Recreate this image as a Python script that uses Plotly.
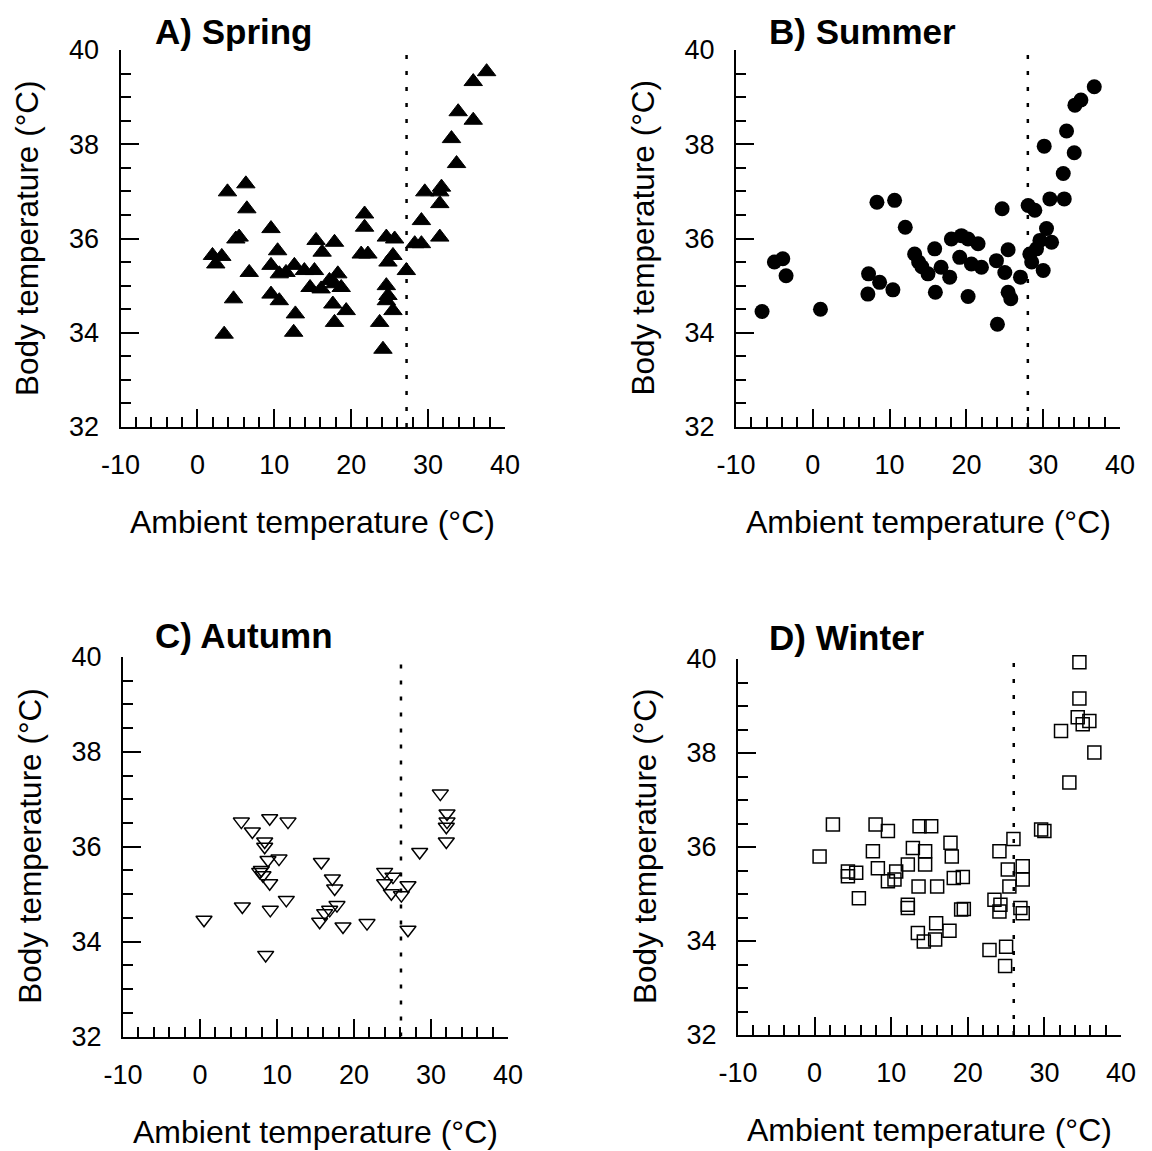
import plotly.graph_objects as go

W, H = 1152, 1151
OFF = 8  # the page body adds an 8 px margin around the figure

# ---------------- data ----------------
spring_x = [1.96, 3.17, 2.39, 3.91, 6.30, 6.43, 5.43, 5.0, 6.74, 4.70, 3.48,
            9.57, 10.43, 9.57, 10.65, 11.52, 12.61, 9.57, 10.65, 12.74, 12.52,
            13.91, 15.22, 14.65, 15.43, 16.22, 17.83, 16.09, 18.26, 17.83, 18.7,
            17.61, 17.83, 19.35, 17.17, 21.74, 21.74, 22.17, 21.3, 24.57, 25.65,
            25.43, 24.78, 24.57, 24.78, 24.57, 25.43, 23.7, 24.13, 27.17, 28.26,
            29.13, 29.13, 29.57, 31.52, 31.52, 31.52, 31.74, 33.7, 33.04, 33.91,
            35.87, 35.87, 37.61]
spring_y = [35.64, 35.62, 35.46, 36.99, 37.16, 36.63, 36.03, 35.99, 35.28, 34.72, 33.97,
            36.21, 35.74, 35.43, 35.25, 35.28, 35.43, 34.82, 34.68, 34.40, 34.01,
            35.32, 35.32, 34.96, 35.96, 35.71, 35.92, 34.93, 35.25, 35.04, 34.96,
            34.61, 34.22, 34.47, 35.11, 36.52, 36.24, 35.67, 35.67, 36.03, 35.99,
            35.64, 35.50, 35.0, 34.79, 34.68, 34.47, 34.22, 33.65, 35.32, 35.89,
            35.89, 36.38, 36.99, 36.03, 36.74, 36.99, 37.09, 37.59, 38.12, 38.69,
            38.51, 39.33, 39.54]

summer_x = [-6.61, -5.0, -3.91, -3.48, 1.0, 7.26, 7.17, 8.70, 10.43, 8.35, 10.65,
            12.04, 13.26, 13.78, 15.0, 15.87, 15.96, 16.7, 17.83, 18.04, 19.35,
            20.22, 21.52, 19.13, 20.65, 21.96, 20.22, 23.91, 25.0, 25.43, 24.65,
            25.43, 25.78, 24.04, 27.04, 28.04, 28.91, 28.26, 29.13, 29.57, 30.43,
            31.09, 30.0, 30.87, 32.74, 30.13, 32.61, 34.04, 33.04, 34.13, 34.91,
            36.65, 28.5, 14.2]
summer_y = [34.45, 35.50, 35.57, 35.21, 34.50, 35.25, 34.82, 35.07, 34.91, 36.77, 36.81,
            36.24, 35.67, 35.50, 35.25, 35.78, 34.86, 35.39, 35.18, 35.99, 36.06,
            35.99, 35.89, 35.60, 35.46, 35.39, 34.77, 35.53, 35.28, 35.76, 36.63,
            34.86, 34.72, 34.18, 35.18, 36.70, 36.60, 35.67, 35.78, 35.96, 36.21,
            35.92, 35.32, 36.84, 36.84, 37.96, 37.38, 37.82, 38.28, 38.83, 38.94,
            39.22, 35.50, 35.40]

autumn_x = [0.52, 5.37, 6.80, 8.40, 8.40, 9.05, 11.43, 8.83, 10.26, 7.97, 8.18,
            9.05, 5.5, 9.13, 11.21, 8.53, 15.76, 17.19, 17.49, 17.79, 16.84,
            16.19, 15.54, 18.57, 21.69, 23.98, 25.06, 23.98, 24.85, 26.15, 27.01,
            27.01, 28.53, 31.21, 32.08, 32.08, 31.99, 31.99, 7.75]
autumn_y = [34.46, 36.53, 36.32, 36.11, 36.0, 36.60, 36.53, 35.72, 35.75, 35.51, 35.40,
            35.23, 34.74, 34.67, 34.88, 33.72, 35.68, 35.33, 35.12, 34.77, 34.67,
            34.60, 34.42, 34.32, 34.39, 35.47, 35.37, 35.23, 35.02, 34.98, 35.19,
            34.25, 35.89, 37.12, 36.70, 36.53, 36.42, 36.11, 35.47]

winter_x = [0.65, 2.39, 4.35, 4.35, 5.43, 5.78, 7.96, 9.57, 7.61, 8.26, 9.57,
            10.65, 10.43, 12.17, 12.83, 13.7, 15.22, 14.43, 14.43, 13.57, 16.0,
            12.17, 12.17, 13.48, 14.26, 15.74, 15.87, 17.61, 17.74, 17.91, 18.17,
            19.35, 19.13, 19.48, 24.13, 25.96, 25.22, 25.43, 23.48, 24.26, 24.13,
            27.17, 27.17, 26.87, 27.17, 22.83, 25.0, 24.87, 29.57, 30.0, 32.17,
            33.26, 34.57, 34.57, 34.35, 35.0, 35.87, 36.52]
winter_y = [35.80, 36.48, 35.48, 35.38, 35.45, 34.91, 36.48, 36.34, 35.91, 35.55, 35.27,
            35.48, 35.31, 35.63, 35.98, 36.44, 36.44, 35.91, 35.63, 35.16, 35.16,
            34.70, 34.77, 34.17, 33.99, 34.03, 34.38, 34.22, 36.09, 35.80, 35.34,
            35.36, 34.67, 34.68, 35.91, 36.17, 35.52, 35.16, 34.88, 34.77, 34.63,
            35.59, 35.31, 34.70, 34.59, 33.81, 33.88, 33.47, 36.37, 36.34, 38.47,
            37.37, 39.93, 39.16, 38.76, 38.61, 38.68, 38.01]

threshold_x = [27.2, 28.0, 26.1, 26.0]
threshold_top = [39.92, 39.92, 39.9, 39.95]
panel_titles = ["A) Spring", "B) Summer", "C) Autumn", "D) Winter"]
x_ticks = [-10, 0, 10, 20, 30, 40]
y_ticks = [32, 34, 36, 38, 40]
x_title = "Ambient temperature (°C)"
y_title = "Body temperature (°C)"

# ---------------- layout geometry (px, in the screenshot) ----------------
dom_px = [
    # x0, x1, ytop, ybottom
    (120.5, 505.0, 50.0, 427.0),
    (736.0, 1120.0, 50.0, 427.0),
    (123.0, 508.0, 657.0, 1036.5),
    (738.0, 1121.0, 659.0, 1035.0),
]
title_pos = [(153, 31), (767, 31), (153, 635), (767, 637)]

series = [
    (spring_x, spring_y, dict(symbol="triangle-up", size=16, color="black",
                              line=dict(width=1, color="black"))),
    (summer_x, summer_y, dict(symbol="circle", size=15, color="black",
                              line=dict(width=0))),
    (autumn_x, autumn_y, dict(symbol="triangle-down-open", size=14, color="black",
                              line=dict(width=1.5, color="black"))),
    (winter_x, winter_y, dict(symbol="square-open", size=13, color="black",
                              line=dict(width=1.5, color="black"))),
]


def px_x(v):
    return (v - OFF) / W


def px_y(v):
    return 1 - (v - OFF) / H


fig = go.Figure()
font_family = "Liberation Sans, Arial, Helvetica, sans-serif"
annotations = []

for i, ((xs, ys, mk), (x0, x1, yt, yb)) in enumerate(zip(series, dom_px)):
    n = "" if i == 0 else str(i + 1)
    xa, ya = "x" + n, "y" + n
    fig.add_trace(go.Scatter(x=xs, y=ys, mode="markers", marker=mk,
                             xaxis=xa, yaxis=ya, showlegend=False,
                             cliponaxis=False))
    fig.add_trace(go.Scatter(x=[threshold_x[i], threshold_x[i]], y=[32, threshold_top[i]],
                             mode="lines",
                             line=dict(color="black", width=2.5, dash="4px,12px"),
                             xaxis=xa, yaxis=ya, showlegend=False))
    xdom = [px_x(x0), px_x(x1)]
    ydom = [px_y(yb), px_y(yt)]
    common = dict(showline=True, linecolor="black", linewidth=2, mirror=False,
                  showgrid=False, zeroline=False, ticks="inside", ticklen=18,
                  tickwidth=2, tickcolor="black", automargin=False,
                  tickfont=dict(family=font_family, size=27, color="black"))
    fig.layout["xaxis" + n] = dict(
        domain=xdom, range=[-10, 40], anchor=ya, tickmode="array",
        tickvals=x_ticks, ticktext=[str(v) for v in x_ticks],
        ticklabelstandoff=13,
        minor=dict(dtick=2, tick0=-10, ticks="inside", ticklen=10, tickwidth=2,
                   tickcolor="black", showgrid=False),
        **common)
    fig.layout["yaxis" + n] = dict(
        domain=ydom, range=[32, 40], anchor=xa, tickmode="array",
        tickvals=y_ticks, ticktext=[str(v) for v in y_ticks],
        ticklabelstandoff=14,
        minor=dict(dtick=0.5, tick0=32, ticks="inside", ticklen=10, tickwidth=2,
                   tickcolor="black", showgrid=False),
        **common)
    # panel title
    tx, ty = title_pos[i]
    annotations.append(dict(text="<b>%s</b>" % panel_titles[i], x=px_x(tx), y=px_y(ty),
                            xref="paper", yref="paper", xanchor="left", yanchor="middle",
                            showarrow=False,
                            font=dict(family=font_family, size=35, color="black")))
    # x axis title
    annotations.append(dict(text=x_title, x=px_x((x0 + x1) / 2), y=px_y(yb + 95),
                            xref="paper", yref="paper", xanchor="center", yanchor="middle",
                            showarrow=False,
                            font=dict(family=font_family, size=32, color="black")))
    # y axis title
    annotations.append(dict(text=y_title, x=px_x(x0 - 93), y=px_y((yt + yb) / 2),
                            xref="paper", yref="paper", xanchor="center", yanchor="middle",
                            textangle=-90, showarrow=False,
                            font=dict(family=font_family, size=31.5, color="black")))

fig.update_layout(template="none", width=W, height=H,
                  margin=dict(l=0, r=0, t=0, b=0, pad=0),
                  paper_bgcolor="white", plot_bgcolor="white",
                  annotations=annotations, showlegend=False)

fig.write_html("out.html")
